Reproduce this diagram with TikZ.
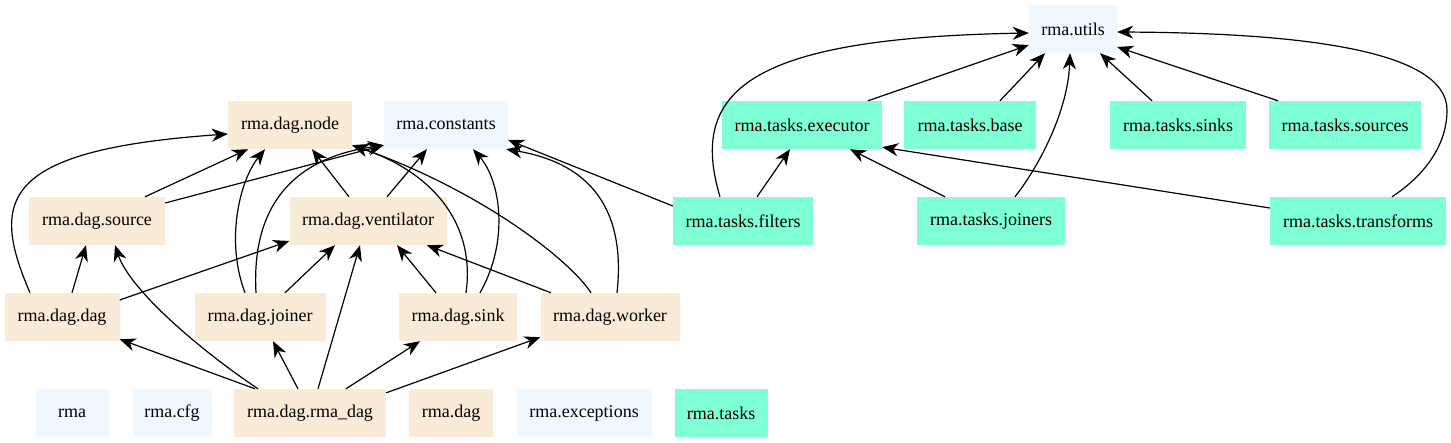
\documentclass[tikz,border=0pt]{standalone}
\usepackage{fontspec}
\setmainfont{Liberation Serif}
\usetikzlibrary{arrows.meta}
\definecolor{beige}{HTML}{FAEBD7}
\definecolor{alice}{HTML}{F0F8FF}
\definecolor{aqua}{HTML}{7FFFD4}
\tikzset{
  box/.style={minimum height=48pt, inner sep=0pt, font=\fontsize{18}{20}\selectfont},
  dagbox/.style={box, fill=beige},
  basebox/.style={box, fill=alice},
  taskbox/.style={box, fill=aqua},
  dep/.style={-{Stealth[length=16pt,width=13pt,inset=5pt]}, line width=1.2pt, black},
}
\begin{document}
\begin{tikzpicture}[x=1pt,y=-1pt]
\useasboundingbox (0,0) rectangle (1451,443);
% row 1
\node[basebox, minimum width=88pt] (utils) at (1073,29) {rma.utils};
% row 2
\node[dagbox, minimum width=124pt] (node) at (290,125) {rma.dag.node};
\node[basebox, minimum width=124pt] (constants) at (446,125) {rma.constants};
\node[taskbox, minimum width=160pt] (executor) at (802,125) {rma.tasks.executor};
\node[taskbox, minimum width=132pt] (base) at (970,125) {rma.tasks.base};
\node[taskbox, minimum width=136pt] (sinks) at (1178,125) {rma.tasks.sinks};
\node[taskbox, minimum width=152pt] (sources) at (1345,125) {rma.tasks.sources};
% row 3
\node[dagbox, minimum width=136pt] (source) at (97,221) {rma.dag.source};
\node[dagbox, minimum width=157pt] (ventilator) at (368,221) {rma.dag.ventilator};
\node[taskbox, minimum width=140pt] (filters) at (743,221) {rma.tasks.filters};
\node[taskbox, minimum width=148pt] (joiners) at (991,221) {rma.tasks.joiners};
\node[taskbox, minimum width=176pt] (transforms) at (1358,221) {rma.tasks.transforms};
% row 4
\node[dagbox, minimum width=115pt] (dag) at (62,317) {rma.dag.dag};
\node[dagbox, minimum width=131pt] (joiner) at (260,317) {rma.dag.joiner};
\node[dagbox, minimum width=118pt] (sink) at (458,317) {rma.dag.sink};
\node[dagbox, minimum width=139pt] (worker) at (610,317) {rma.dag.worker};
% row 5
\node[basebox, minimum width=73pt] (rma) at (72,413) {rma};
\node[basebox, minimum width=79pt] (cfg) at (172,413) {rma.cfg};
\node[dagbox, minimum width=152pt] (rmadag) at (310,413) {rma.dag.rma\_dag};
\node[dagbox, minimum width=84pt] (dagpkg) at (451,413) {rma.dag};
\node[basebox, minimum width=135pt] (exceptions) at (584,413) {rma.exceptions};
\node[taskbox, minimum width=93pt] (tasks) at (721,413) {rma.tasks};

% tasks -> utils
\draw[dep] ([xshift=-23pt]filters.north) .. controls (688,90) and (750,38) .. ([yshift=-4pt]utils.west);
\draw[dep] ([xshift=66pt]executor.north) -- ([yshift=-16pt]utils.west);
\draw[dep] ([xshift=30pt]base.north) -- ([xshift=-28pt]utils.south);
\draw[dep] ([xshift=24pt]joiners.north) .. controls (1040,165) and (1068,110) .. ([xshift=-3pt]utils.south);
\draw[dep] ([xshift=-26pt]sinks.north) -- ([xshift=27pt]utils.south);
\draw[dep] ([xshift=-67pt]sources.north) -- ([yshift=-18pt]utils.east);
\draw[dep] ([xshift=34pt]transforms.north) .. controls (1425,175) and (1447,145) .. (1447,110)
  .. controls (1447,50) and (1300,33) .. ([yshift=-3pt]utils.east);
% tasks -> executor
\draw[dep] ([xshift=14pt]filters.north) -- ([xshift=-12pt]executor.south);
\draw[dep] ([xshift=-46pt]joiners.north) -- ([xshift=48pt]executor.south);
\draw[dep] ([yshift=13pt]transforms.west) -- ([yshift=2pt]executor.south east);
% filters -> constants
\draw[dep] ([yshift=15pt]filters.west) -- ([yshift=-15pt]constants.east);
% dag package
\draw[dep] ([xshift=48pt]source.north) -- ([xshift=-42pt]node.south);
\draw[dep] ([yshift=18pt]source.east) -- ([yshift=4pt]constants.south west);
\draw[dep] ([xshift=-32pt]dag.north) .. controls (-10,200) and (0,150) .. ([yshift=-9pt]node.west);
\draw[dep] ([xshift=10pt]dag.north) -- ([xshift=-11pt]source.south);
\draw[dep] ([yshift=17pt]dag.east) -- ([yshift=-20pt]ventilator.west);
\draw[dep] ([xshift=-55pt]rmadag.north) -- ([yshift=2pt]dag.south east);
\draw[dep] ([xshift=-52pt]rmadag.north) .. controls (200,350) and (130,290) .. ([xshift=18pt]source.south);
\draw[dep] ([xshift=-12pt]rmadag.north) -- ([xshift=13pt]joiner.south);
\draw[dep] ([xshift=8pt]rmadag.north) -- ([xshift=-8pt]ventilator.south);
\draw[dep] ([xshift=36pt]rmadag.north) -- ([xshift=-38pt]sink.south);
\draw[dep] ([yshift=-4pt]rmadag.north east) -- ([yshift=4pt]worker.south west);
\draw[dep] ([xshift=-15pt]joiner.north) .. controls (225,240) and (240,180) .. ([xshift=-25pt]node.south);
\draw[dep] ([xshift=-4pt]joiner.north) .. controls (252,220) and (280,160) .. ([yshift=4pt]constants.south west);
\draw[dep] ([xshift=25pt]joiner.north) -- ([xshift=-33pt]ventilator.south);
\draw[dep] ([xshift=-19pt]ventilator.north) -- ([xshift=22pt]node.south);
\draw[dep] ([xshift=19pt]ventilator.north) -- ([xshift=-19pt]constants.south);
\draw[dep] ([xshift=-22pt]sink.north) -- ([xshift=29pt]ventilator.south);
\draw[dep] ([xshift=8pt]sink.north) .. controls (475,230) and (440,175) .. ([yshift=4pt]node.south east);
\draw[dep] ([xshift=22pt]sink.north) .. controls (510,240) and (500,180) .. ([xshift=27pt]constants.south);
\draw[dep] ([xshift=-59pt]worker.north) -- ([xshift=59pt]ventilator.south);
\draw[dep] ([xshift=-19pt]worker.north) .. controls (570,260) and (480,190) .. ([yshift=4pt]node.south east);
\draw[dep] ([xshift=7pt]worker.north) .. controls (625,220) and (600,165) .. ([xshift=-2pt]constants.south east);
\end{tikzpicture}
\end{document}
